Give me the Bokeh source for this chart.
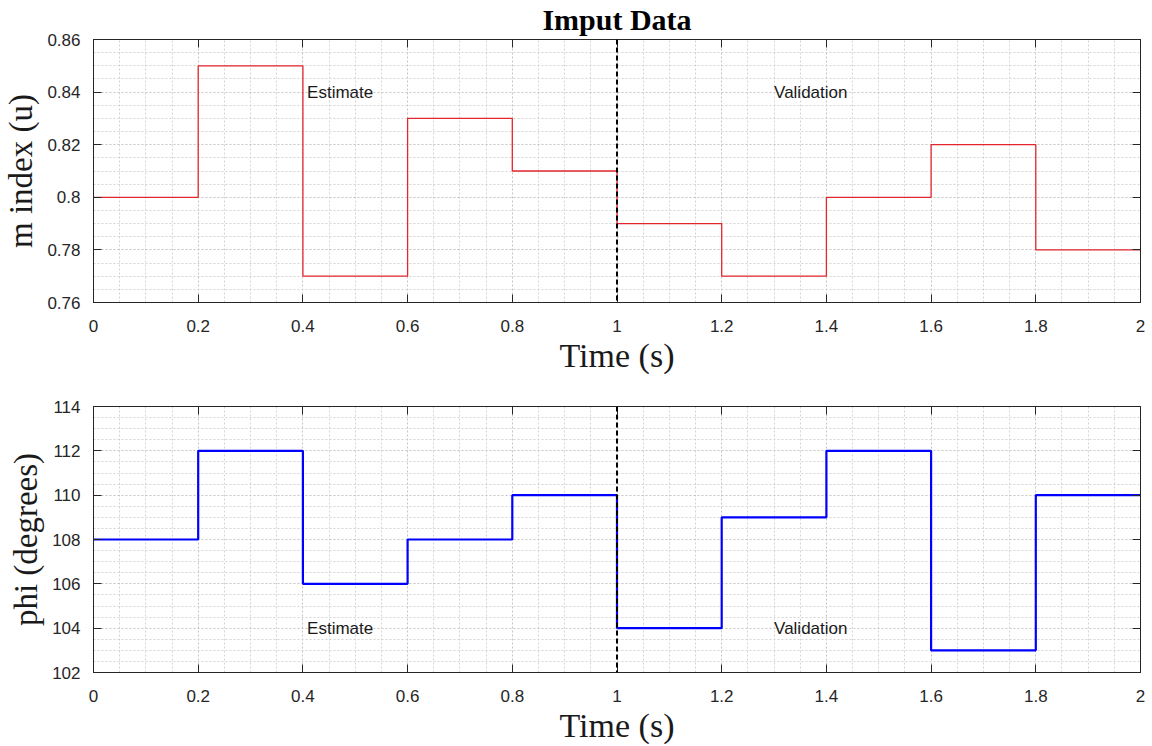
from bokeh.plotting import figure
from bokeh.models import (Range1d, FixedTicker, LinearAxis, Span, Label,
                          CustomJSTickFormatter)
from bokeh.layouts import column
from bokeh.embed import file_html
from bokeh.resources import INLINE

# Piecewise-constant input signals (one level per 0.2 s interval)
time_edges = [0.0, 0.2, 0.4, 0.6, 0.8, 1.0, 1.2, 1.4, 1.6, 1.8, 2.0]
m_index = [0.80, 0.85, 0.77, 0.83, 0.81, 0.79, 0.77, 0.80, 0.82, 0.78]
phi_deg = [108, 112, 106, 108, 110, 104, 109, 112, 103, 110]

# Axis ticks
x_ticks = [0.0, 0.2, 0.4, 0.6, 0.8, 1.0, 1.2, 1.4, 1.6, 1.8, 2.0]
m_ticks = [0.76, 0.78, 0.80, 0.82, 0.84, 0.86]
phi_ticks = [102, 104, 106, 108, 110, 112, 114]

split_time = 1.0
region_names = ["Estimate", "Validation"]
region_x = [0.408, 1.30]

SERIF = "Liberation Serif"
SANS = "Liberation Sans"
AXIS_COLOR = "#262626"

num_fmt = CustomJSTickFormatter(code="return String(Number(tick.toFixed(4)));")
blank_fmt = CustomJSTickFormatter(code="return '';")


def minor_between(ticks, n_sub):
    out = []
    for a, b in zip(ticks[:-1], ticks[1:]):
        step = (b - a) / n_sub
        out.extend(round(a + k * step, 6) for k in range(1, n_sub))
    return out


def make_panel(levels, y_ticks, color, width, ylabel, label_y,
               height, b_top, b_bottom, title=None):
    y0, y1 = y_ticks[0], y_ticks[-1]
    p = figure(width=1152, height=height, output_backend="svg",
               toolbar_location=None,
               x_range=Range1d(time_edges[0], time_edges[-1]),
               y_range=Range1d(y0, y1),
               min_border_left=91, min_border_right=12,
               min_border_top=b_top, min_border_bottom=b_bottom)
    p.background_fill_color = "white"
    p.border_fill_color = "white"
    p.outline_line_color = AXIS_COLOR
    p.outline_line_width = 1

    xt = FixedTicker(ticks=x_ticks, minor_ticks=minor_between(x_ticks, 4))
    yt = FixedTicker(ticks=y_ticks, minor_ticks=minor_between(y_ticks, 4))

    p.add_layout(LinearAxis(), "above")
    p.add_layout(LinearAxis(), "right")

    for ax in p.xaxis:
        ax.ticker = xt
    for ax in p.yaxis:
        ax.ticker = yt
    for ax in list(p.xaxis) + list(p.yaxis):
        ax.formatter = num_fmt
        ax.axis_line_color = AXIS_COLOR
        ax.major_tick_line_color = AXIS_COLOR
        ax.major_tick_in = 8
        ax.major_tick_out = 0
        ax.minor_tick_line_color = None
        ax.major_label_text_font = SANS
        ax.major_label_text_font_size = "17px"
        ax.major_label_text_color = "#262626"
        ax.axis_label_text_font = SERIF
        ax.axis_label_text_font_style = "normal"
        ax.axis_label_text_font_size = "33px"
        ax.axis_label_text_color = "#1a1a1a"

    # box axes on top and right carry inward ticks only
    for ax in (p.above[0], p.right[0]):
        ax.formatter = blank_fmt
        ax.major_label_standoff = 0
        ax.axis_label = None

    bx = p.below[0]
    bx.axis_label = "Time (s)"
    bx.axis_label_text_font_size = "34px"
    bx.major_label_standoff = 13
    bx.axis_label_standoff = 2

    ly = p.left[0]
    ly.axis_label = ylabel
    ly.major_label_standoff = 9
    ly.axis_label_standoff = 5

    p.xgrid.ticker = xt
    p.ygrid.ticker = yt
    for g in list(p.xgrid) + list(p.ygrid):
        g.grid_line_color = "#c4c4c4"
        g.grid_line_dash = "2 2"
        g.grid_line_width = 1
        g.minor_grid_line_color = "#d4d4d4"
        g.minor_grid_line_dash = "2 2"
        g.minor_grid_line_width = 1

    ys = list(levels) + [levels[-1]]
    p.step(time_edges, ys, mode="after", line_color=color, line_width=width)

    p.add_layout(Span(location=split_time, dimension="height",
                      line_color="black", line_width=2, line_dash="5 3"))

    for name, xpos in zip(region_names, region_x):
        p.add_layout(Label(x=xpos, y=label_y, text=name,
                           text_font=SANS, text_font_size="17px",
                           text_color="#1a1a1a", text_baseline="middle",
                           text_align="left"))

    if title:
        p.title.text = title
        p.title.align = "center"
        p.title.text_font = SERIF
        p.title.text_font_style = "bold"
        p.title.text_font_size = "30px"
        p.title.text_color = "black"
        p.title.standoff = 0
        p.title.offset = 0
    else:
        p.title.visible = False
    return p


top = make_panel(m_index, m_ticks, "#e2262c", 1.3, "m index (u)", 0.84,
                 380, 37, 78, title="Imput Data")
bottom = make_panel(phi_deg, phi_ticks, "#0000ff", 2.2, "phi (degrees)", 104,
                    366, 26, 74)

layout = column(top, bottom, spacing=0)
open("out.html", "w").write(file_html(layout, INLINE))
